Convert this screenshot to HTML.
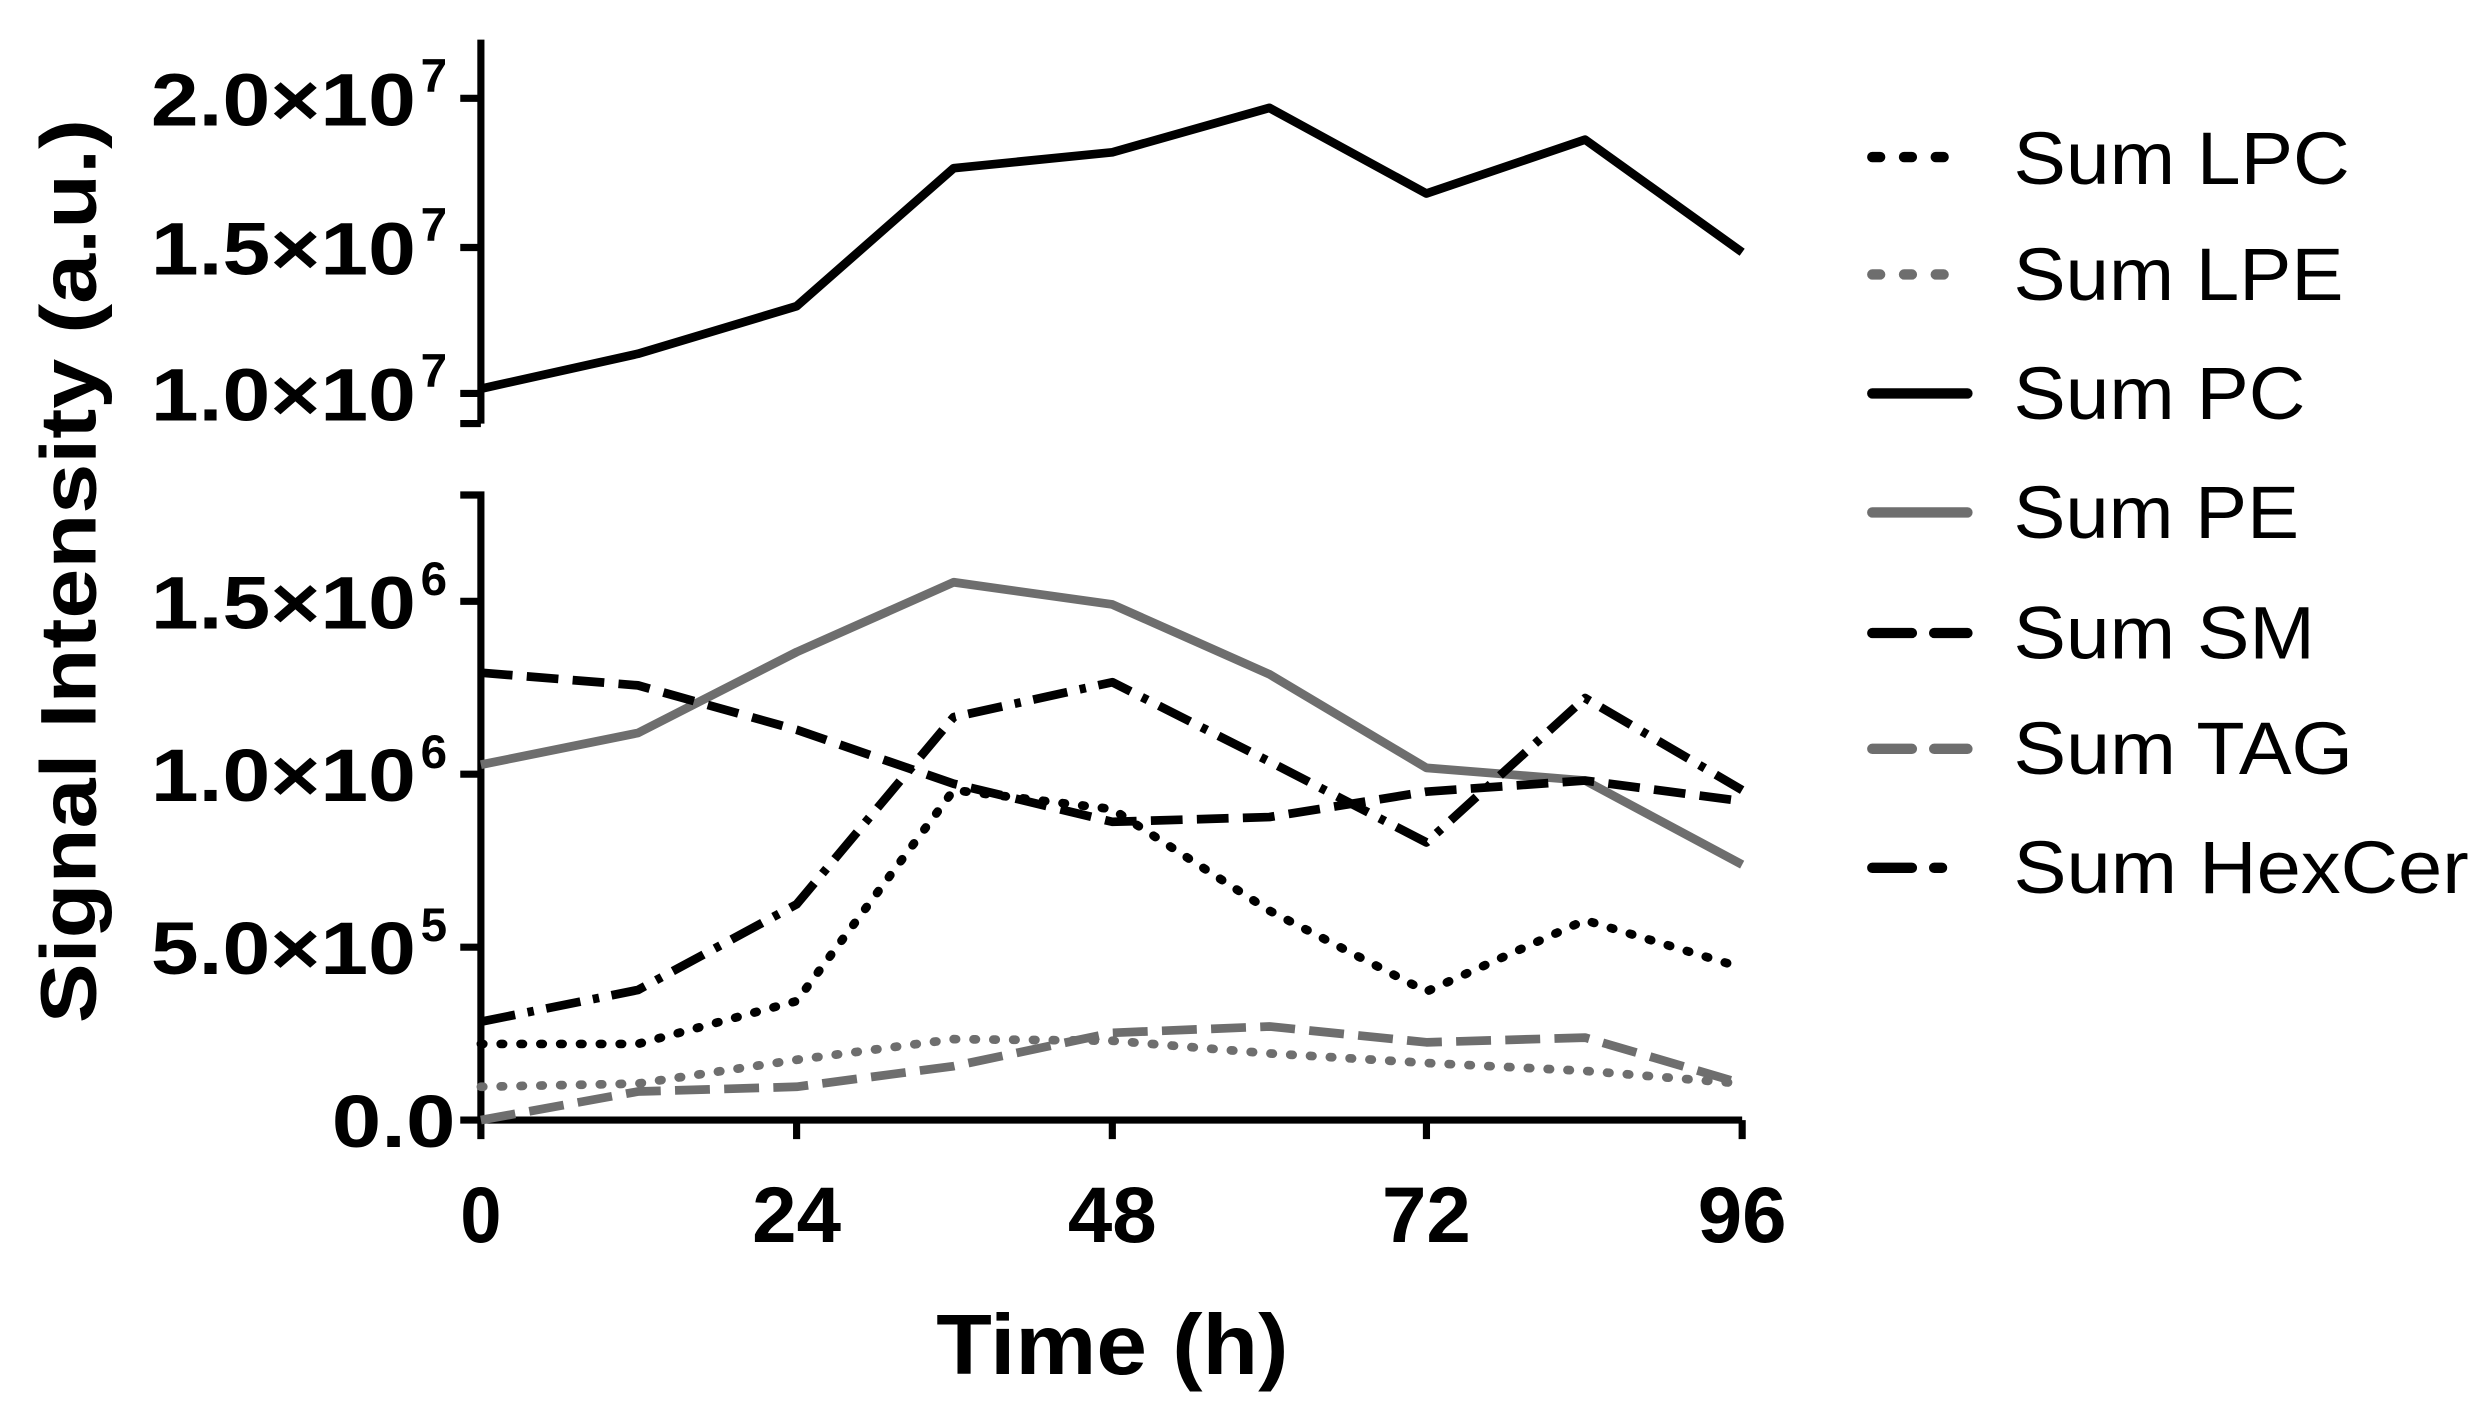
<!DOCTYPE html>
<html><head><style>html,body{margin:0;padding:0;background:#fff}svg{display:block}</style></head>
<body>
<svg width="2488" height="1412" viewBox="0 0 1568 890" xmlns="http://www.w3.org/2000/svg" font-family="Liberation Sans, Arial, sans-serif">
<rect width="1568" height="890" fill="#fff"/>
<g stroke="#000" stroke-width="4.5" fill="none">
<path d="M303 25 V267 M290 267 H303"/>
<path d="M290 312 H303 V706 H1098 M290 62 H303 M290 156 H303 M290 248 H303 M290 379 H303 M290 488 H303 M290 597 H303 M290 706 H303"/>
<path d="M303 706 V718 M502 706 V718 M701 706 V718 M899 706 V718 M1098 706 V718"/>
</g>
<g font-weight="bold" font-size="47" fill="#000">
<text x="95" y="79" textLength="167" lengthAdjust="spacingAndGlyphs">2.0×10</text><text x="265" y="58" font-size="30">7</text>
<text x="95" y="173" textLength="167" lengthAdjust="spacingAndGlyphs">1.5×10</text><text x="265" y="152" font-size="30">7</text>
<text x="95" y="265" textLength="167" lengthAdjust="spacingAndGlyphs">1.0×10</text><text x="265" y="244" font-size="30">7</text>
<text x="95" y="396" textLength="167" lengthAdjust="spacingAndGlyphs">1.5×10</text><text x="265" y="375" font-size="30">6</text>
<text x="95" y="505" textLength="167" lengthAdjust="spacingAndGlyphs">1.0×10</text><text x="265" y="484" font-size="30">6</text>
<text x="95" y="614" textLength="167" lengthAdjust="spacingAndGlyphs">5.0×10</text><text x="265" y="593" font-size="30">5</text>
<text x="209" y="723" textLength="78" lengthAdjust="spacingAndGlyphs">0.0</text>
</g>
<g font-weight="bold" font-size="50" text-anchor="middle">
<text x="303" y="783" textLength="26" lengthAdjust="spacingAndGlyphs">0</text><text x="502" y="783" textLength="56" lengthAdjust="spacingAndGlyphs">24</text><text x="701" y="783" textLength="56" lengthAdjust="spacingAndGlyphs">48</text><text x="899" y="783" textLength="56" lengthAdjust="spacingAndGlyphs">72</text><text x="1098" y="783" textLength="56" lengthAdjust="spacingAndGlyphs">96</text>
</g>
<text x="590" y="866" font-weight="bold" font-size="54" textLength="222" lengthAdjust="spacingAndGlyphs">Time (h)</text>
<text transform="translate(60 645) rotate(-90)" font-weight="bold" font-size="50" textLength="570" lengthAdjust="spacingAndGlyphs">Signal Intensity (a.u.)</text>
<g fill="none" stroke-width="5.5" stroke-linejoin="round">
<polyline stroke="#000" points="303,245 402,223 502,193 601,106 701,96 800,68 899,122 999,88 1098,159"/>
<polyline stroke="#6e6e6e" points="303,482 402,462 502,411 601,367 701,381 800,425 899,484 999,492 1098,545"/>
<polyline stroke="#000" stroke-dasharray="20 9" points="303,424 402,432 502,460 601,494 701,518 800,515 899,499 999,492 1098,505"/>
<polyline stroke="#000" stroke-dasharray="22 8 4 8" points="303,644 402,624 502,570 601,452 701,430 800,480 899,531 999,440 1098,498"/>
<polyline stroke="#000" stroke-linecap="round" stroke-dasharray="1.5 11" points="303,658 402,658 502,631 601,498 701,510 800,574 899,625 999,580 1098,610"/>
<polyline stroke="#6e6e6e" stroke-linecap="round" stroke-dasharray="1.5 11" points="303,685 402,683 502,668 601,655 701,656 800,664 899,670 999,675 1098,683"/>
<polyline stroke="#6e6e6e" stroke-dasharray="22 9" points="303,706 402,688 502,685 601,672 701,651 800,647 899,657 999,654 1098,683"/>
</g>
<g fill="none" stroke-width="6.5" stroke-linecap="round">
<path d="M1180 99 H1240" stroke="#000" stroke-dasharray="5 15"/>
<path d="M1180 173 H1240" stroke="#6e6e6e" stroke-dasharray="5 15"/>
<path d="M1180 248 H1240" stroke="#000"/>
<path d="M1180 323 H1240" stroke="#6e6e6e"/>
<path d="M1180 399 H1240" stroke="#000" stroke-dasharray="25 14"/>
<path d="M1180 472 H1240" stroke="#6e6e6e" stroke-dasharray="25 14"/>
<path d="M1180 547 H1240" stroke="#000" stroke-dasharray="25 14 5 100"/>
</g>
<g font-size="47" fill="#000">
<text x="1269" y="116" textLength="212" lengthAdjust="spacingAndGlyphs">Sum LPC</text>
<text x="1269" y="189" textLength="208" lengthAdjust="spacingAndGlyphs">Sum LPE</text>
<text x="1269" y="264" textLength="184" lengthAdjust="spacingAndGlyphs">Sum PC</text>
<text x="1269" y="339" textLength="180" lengthAdjust="spacingAndGlyphs">Sum PE</text>
<text x="1269" y="415" textLength="190" lengthAdjust="spacingAndGlyphs">Sum SM</text>
<text x="1269" y="488" textLength="214" lengthAdjust="spacingAndGlyphs">Sum TAG</text>
<text x="1269" y="563" textLength="287" lengthAdjust="spacingAndGlyphs">Sum HexCer</text>
</g>
</svg>
</body></html>
